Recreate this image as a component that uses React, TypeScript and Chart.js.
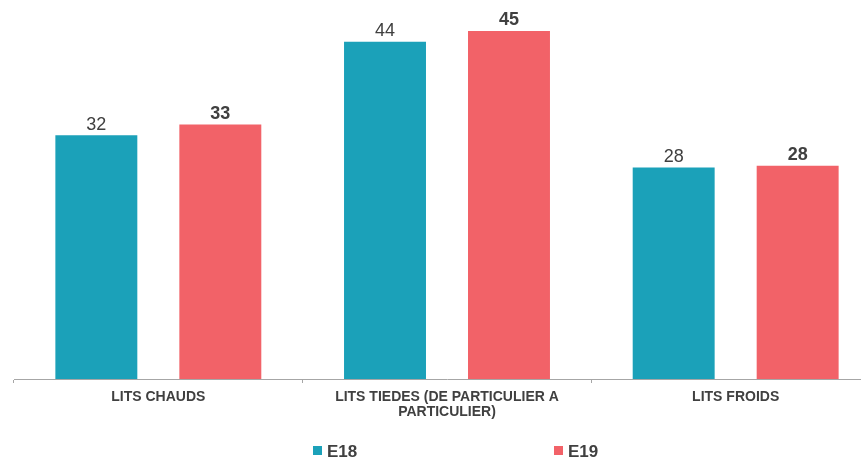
import React, { useEffect, useRef } from "react";
import { Chart, registerables } from "chart.js";

Chart.register(...registerables);

// ---- data ----
const categories: string[][] = [
  ["LITS CHAUDS"],
  ["LITS TIEDES (DE PARTICULIER A", "PARTICULIER)"],
  ["LITS FROIDS"],
];
const seriesNames: string[] = ["E18", "E19"];
const e18Values: number[] = [31.8, 44.0, 27.6];
const e19Values: number[] = [33.2, 45.4, 27.8];
const yMin = 0;
const yMax = 48;

// ---- style ----
const COLORS = ["#1BA1B9", "#F26268"];
const TEXT = "#404040";
const AXIS = "#A6A6A6";
const FONT = "'Liberation Sans', Arial, Helvetica, sans-serif";

const valueLabels = {
  id: "valueLabels",
  afterDatasetsDraw(chart: any) {
    const ctx = chart.ctx;
    ctx.save();
    chart.data.datasets.forEach((ds: any, i: number) => {
      const meta = chart.getDatasetMeta(i);
      meta.data.forEach((el: any, j: number) => {
        const v = ds.data[j] as number;
        ctx.font = `${i === 1 ? "bold " : ""}18px ${FONT}`;
        ctx.fillStyle = TEXT;
        ctx.textAlign = "center";
        ctx.textBaseline = "alphabetic";
        ctx.fillText(String(Math.round(v)), el.x, el.y - 5.5);
      });
    });
    ctx.restore();
  },
};

const customLegend = {
  id: "customLegend",
  afterDraw(chart: any) {
    const ctx = chart.ctx;
    const starts = [313, 554];
    ctx.save();
    chart.data.datasets.forEach((ds: any, i: number) => {
      const x = starts[i];
      ctx.fillStyle = ds.backgroundColor;
      ctx.fillRect(x, 446, 9, 9);
      ctx.font = `bold 17px ${FONT}`;
      ctx.fillStyle = TEXT;
      ctx.textAlign = "left";
      ctx.textBaseline = "alphabetic";
      ctx.fillText(ds.label, x + 14, 456.5);
    });
    ctx.restore();
  },
};

export default function App() {
  const canvasRef = useRef<HTMLCanvasElement | null>(null);

  useEffect(() => {
    if (!canvasRef.current) return;
    const chart = new Chart(canvasRef.current, {
      type: "bar",
      data: {
        labels: categories,
        datasets: [
          {
            label: seriesNames[0],
            data: e18Values,
            backgroundColor: COLORS[0],
            categoryPercentage: 0.859,
            barPercentage: 0.661,
          },
          {
            label: seriesNames[1],
            data: e19Values,
            backgroundColor: COLORS[1],
            categoryPercentage: 0.859,
            barPercentage: 0.661,
          },
        ],
      },
      options: {
        animation: false,
        responsive: true,
        maintainAspectRatio: false,
        layout: { padding: { left: 14, right: 20, top: 11, bottom: 0 } },
        plugins: {
          legend: { display: false },
          tooltip: { enabled: false },
        },
        scales: {
          x: {
            afterFit: (scale: any) => {
              scale.height = 82;
            },
            grid: {
              display: true,
              drawOnChartArea: false,
              drawTicks: true,
              tickLength: 4,
              color: AXIS,
              offset: true,
            },
            border: { display: true, color: AXIS, width: 1 },
            ticks: {
              color: TEXT,
              font: { family: FONT, size: 14, weight: "bold", lineHeight: 1.1 },
              padding: 6,
              maxRotation: 0,
              autoSkip: false,
            },
          },
          y: {
            display: false,
            min: yMin,
            max: yMax,
          },
        },
      },
      plugins: [valueLabels, customLegend],
    } as any);
    return () => chart.destroy();
  }, []);

  return (
    <div
      style={{
        position: "fixed",
        left: 0,
        top: 0,
        width: 861,
        height: 461,
        overflow: "hidden",
        background: "#ffffff",
      }}
    >
      <div style={{ position: "relative", width: 900, height: 461 }}>
        <canvas ref={canvasRef} />
      </div>
    </div>
  );
}
